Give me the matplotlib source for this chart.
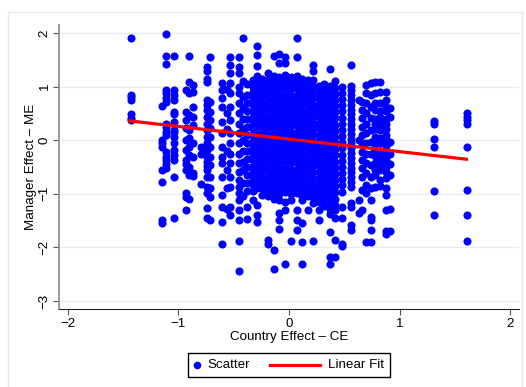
import matplotlib
matplotlib.use("Agg")
import matplotlib.pyplot as plt
from matplotlib.lines import Line2D
from matplotlib.patches import Rectangle

plt.rcParams['font.family'] = ['Liberation Sans', 'DejaVu Sans']

# country effect (x) columns and the manager effects (y) read in each column
ce_cols = [-1.43, -1.15, -1.11, -1.04, -0.93, -0.90, -0.87, -0.80, -0.74, -0.71,
           -0.61, -0.56, -0.53, -0.45, -0.42,
           -0.38, -0.33, -0.29, -0.24, -0.19, -0.14, -0.09, -0.04, 0.02, 0.07,
           0.12, 0.17, 0.22, 0.27, 0.32, 0.37, 0.42, 0.48, 0.565,
           0.63, 0.66, 0.70, 0.74, 0.78, 0.82, 0.88, 0.91, 1.31, 1.61]

me_cols = [
    [1.9, 0.85, 0.8, 0.75, 0.48, 0.42, 0.37],
    [0.63, 0.0, -0.06, -0.12, -0.55, -0.78, -1.49, -1.54],
    [1.98, 1.57, 1.42, 0.93, 0.88, 0.78, 0.71, 0.3, 0.24, 0.16, 0.1, -0.22, -0.31, -0.37, -0.45, -0.52],
    [1.57, 0.93, 0.84, 0.75, 0.53, 0.48, 0.34, 0.19, 0.15, 0.06, -0.06, -0.19, -0.28, -0.37, -0.68, -1.46],
    [0.93, 0.53, 0.37, 0.22, 0.0, -0.19, -0.37, -0.45, -0.56, -0.99, -1.06, -1.31],
    [1.57, 1.09, 0.88, 0.47, 0.19, 0.04, -0.12, -0.28, -0.5, -0.59, -0.65, -1.1],
    [1.03, 0.9, 0.62, 0.43, 0.28, -0.06, -0.31, -0.62, -0.66],
    [-0.12, -0.25, -0.81],
    [1.37, 1.3, 1.15, 1.09, 0.75, 0.65, 0.56, 0.43, 0.31, 0.19, 0.06, -0.06, -0.19, -0.31, -0.4, -0.48,
     -0.56, -0.68, -0.87, -0.99, -1.27, -1.46],
    [1.55, 0.71, 0.53, 0.37, 0.22, 0.06, -0.12, -0.31, -0.47, -0.68, -0.9, -1.06, -1.49],
    [1.06, 0.93, 0.78, 0.62, 0.34, 0.13, -0.12, -0.31, -0.43, -0.68, -1.03, -1.24, -1.52, -1.93],
    [0.95, 0.5, 0.2, -0.2, -0.55, -0.9, -1.28],
    [1.55, 1.4, 1.25, 1.06, 0.88, 0.62, 0.37, 0.13, -0.06, -0.25, -0.43, -0.68, -0.87, -1.24, -1.4],
    [1.55, 1.37, 1.25, 0.99, 0.88, 0.69, 0.5, 0.31, 0.13, -0.06, -0.25, -0.43, -0.59, -0.75, -0.87,
     -0.99, -1.12, -1.31, -1.49, -1.88, -2.44],
    [1.9, 1.1, 0.8, 0.6, 0.4, 0.2, 0.0, -0.2, -0.4, -0.55, -0.8, -1.05],
    [1.05, 0.85, 0.7, 0.55, 0.4, 0.25, 0.1, -0.05, -0.2, -0.35, -0.5, -0.65, -0.8, -0.95, -1.25, -1.47],
    [1.12, 1.0, 0.9, 0.78, 0.66, 0.55, 0.44, 0.32, 0.2, 0.1, -0.02, -0.14, -0.25, -0.37, -0.48, -0.6,
     -0.72, -0.83, -0.95, -1.12],
    [1.76, 1.59, 1.38, 1.2, 1.08, 0.96, 0.85, 0.73, 0.62, 0.5, 0.38, 0.27, 0.15, 0.03, -0.08, -0.2,
     -0.32, -0.43, -0.55, -0.67, -0.78, -0.9, -1.21, -1.4, -1.52],
    [1.15, 1.04, 0.93, 0.82, 0.7, 0.59, 0.47, 0.36, 0.24, 0.13, 0.01, -0.1, -0.22, -0.33, -0.45, -0.56,
     -0.68, -0.79, -0.9, -1.02],
    [1.25, 1.13, 1.02, 0.9, 0.79, 0.67, 0.56, 0.44, 0.33, 0.21, 0.1, -0.02, -0.13, -0.25, -0.36, -0.48,
     -0.59, -0.71, -0.82, -0.94, -1.05, -1.87, -1.94],
    [1.57, 1.2, 1.09, 0.97, 0.86, 0.74, 0.63, 0.51, 0.4, 0.28, 0.17, 0.05, -0.06, -0.18, -0.29, -0.41,
     -0.52, -0.64, -0.75, -0.87, -0.98, -1.1, -2.05, -2.41],
    [1.6, 1.44, 1.18, 1.07, 0.95, 0.84, 0.72, 0.61, 0.49, 0.38, 0.26, 0.15, 0.03, -0.08, -0.2, -0.31,
     -0.43, -0.54, -0.66, -0.77, -0.89, -1.0, -1.12, -1.36, -1.49, -1.66],
    [1.55, 1.45, 1.22, 1.1, 0.99, 0.87, 0.76, 0.64, 0.53, 0.41, 0.3, 0.18, 0.07, -0.05, -0.16, -0.28,
     -0.39, -0.51, -0.62, -0.74, -0.85, -0.97, -1.15, -1.31, -2.31],
    [1.18, 1.06, 0.95, 0.83, 0.72, 0.6, 0.49, 0.37, 0.26, 0.14, 0.03, -0.09, -0.2, -0.32, -0.43, -0.55,
     -0.66, -0.78, -0.89, -1.01, -1.12, -1.88],
    [1.9, 1.55, 1.2, 1.08, 0.97, 0.85, 0.74, 0.62, 0.51, 0.39, 0.28, 0.16, 0.05, -0.07, -0.18, -0.3,
     -0.41, -0.53, -0.64, -0.76, -0.87, -0.99, -1.31, -1.49, -1.68],
    [1.15, 1.03, 0.92, 0.8, 0.69, 0.57, 0.46, 0.34, 0.23, 0.11, 0.0, -0.12, -0.23, -0.35, -0.46, -0.58,
     -0.69, -0.81, -0.92, -1.04, -1.12, -1.54, -1.9, -2.31],
    [1.13, 1.0, 0.89, 0.77, 0.66, 0.54, 0.43, 0.31, 0.2, 0.08, -0.03, -0.15, -0.26, -0.38, -0.49, -0.61,
     -0.72, -0.84, -0.95, -1.05, -1.31],
    [1.4, 1.3, 1.12, 1.01, 0.89, 0.78, 0.66, 0.55, 0.43, 0.32, 0.2, 0.09, -0.03, -0.14, -0.26, -0.37,
     -0.49, -0.6, -0.72, -0.83, -0.95, -1.06, -1.18, -1.88],
    [1.02, 0.91, 0.79, 0.68, 0.56, 0.45, 0.33, 0.22, 0.1, -0.01, -0.13, -0.24, -0.36, -0.47, -0.59, -0.7,
     -0.82, -0.93, -1.05, -1.16, -1.31, -1.49],
    [1.05, 0.94, 0.82, 0.71, 0.59, 0.48, 0.36, 0.25, 0.13, 0.02, -0.1, -0.21, -0.33, -0.44, -0.56, -0.67,
     -0.79, -0.9, -1.02, -1.13, -1.22],
    [1.33, 1.02, 0.9, 0.79, 0.67, 0.56, 0.44, 0.33, 0.21, 0.1, -0.02, -0.13, -0.25, -0.36, -0.48, -0.59,
     -0.71, -0.82, -0.94, -1.05, -1.17, -1.28, -1.37, -1.71, -2.18, -2.31],
    [1.1, 0.98, 0.87, 0.75, 0.64, 0.52, 0.41, 0.29, 0.18, 0.06, -0.05, -0.17, -0.28, -0.4, -0.51, -0.63,
     -0.74, -0.86, -0.97, -1.09, -1.2, -1.3, -1.46, -1.87, -2.18],
    [1.0, 0.88, 0.77, 0.65, 0.54, 0.42, 0.31, 0.19, 0.08, -0.04, -0.15, -0.27, -0.38, -0.5, -0.61, -0.73,
     -0.84, -0.96, -1.24, -1.46, -1.93, -1.98],
    [1.4, 1.02, 0.93, 0.84, 0.75, 0.66, 0.57, 0.48, 0.39, 0.3, 0.21, 0.12, 0.03, -0.06, -0.15, -0.24,
     -0.33, -0.42, -0.51, -0.6, -0.69, -0.78, -0.87, -1.18, -1.24, -1.59, -1.68],
    [0.75, 0.0, -1.12, -1.35],
    [0.71, 0.56, 0.41, 0.25, 0.09, -0.06, -0.22, -0.37, -0.52, -0.68, -0.93, -1.31],
    [1.03, 0.88, 0.69, 0.5, 0.31, 0.13, -0.06, -0.25, -0.43, -0.62, -0.84, -0.99, -1.9],
    [1.06, 0.84, 0.62, 0.41, 0.19, -0.03, -0.25, -0.47, -0.68, -0.9, -1.12, -1.43, -1.49, -1.68, -1.9],
    [1.09, 0.88, 0.7, 0.56, 0.4, 0.31, 0.2, 0.06, -0.08, -0.19, -0.3, -0.43, -0.55, -0.65, -0.87],
    [1.09, 0.9, 0.69, 0.55, 0.43, 0.3, 0.19, 0.05, -0.06, -0.2, -0.31, -0.45, -0.56, -0.75, -0.85],
    [0.9, 0.75, 0.62, 0.55, 0.4, 0.3, 0.2, 0.1, 0.0, -0.1, -0.25, -0.37, -0.5, -0.6, -0.7, -0.9,
     -1.03, -1.3, -1.7, -1.75],
    [0.6, 0.43, -0.03, -0.25, -0.45, -0.65, -1.28, -1.7],
    [0.35, 0.31, 0.02, -0.13, -0.95, -1.39],
    [0.5, 0.44, 0.38, 0.31, -0.13, -0.93, -1.4, -1.88],
]

# linear fit end points
fit_x = [-1.44, 1.605]
fit_y = [0.36, -0.355]

x_ticks = [-2, -1, 0, 1, 2]
y_ticks = [-3, -2, -1, 0, 1, 2]
legend_labels = ["Scatter", "Linear Fit"]

ce = []
me = []
for xc, ys in zip(ce_cols, me_cols):
    for yv in ys:
        ce.append(xc)
        me.append(yv)

W, H = 526, 387
fs = 9.6

fig = plt.figure(figsize=(W / 100, H / 100), dpi=100)
fig.patches.append(Rectangle((8 / W, -0.1), 514 / W, 1.1 - 12 / H, transform=fig.transFigure,
                             fill=False, edgecolor='#e4ecef', lw=1.0))
ax = fig.add_axes([59 / W, 1 - 309 / H, 460 / W, 284 / H])

ax.scatter(ce, me, s=34, color='#0000ff', linewidths=0, zorder=3)
ax.plot(fit_x, fit_y, color='#ff0000', lw=2.3, zorder=4)

ax.set_xlim(-2.08, 2.08)
ax.set_ylim(-3.15, 2.15)
ax.set_xticks(x_ticks)
ax.set_yticks(y_ticks)
ax.tick_params(axis='both', labelsize=fs, length=4.5, color='#555555')
ax.tick_params(axis='y', pad=1.5)
ax.tick_params(axis='x', pad=2)
plt.setp(ax.get_yticklabels(), rotation=90, va='center')
ax.grid(axis='y', color='#e6eef0', lw=1)
ax.set_axisbelow(True)
for s in ['top', 'right']:
    ax.spines[s].set_visible(False)
ax.spines['left'].set_color('#888888')
ax.spines['left'].set_linewidth(1.2)
ax.spines['bottom'].set_color('#222222')

ax.set_xlabel("Country Effect \u2013 CE", fontsize=fs, labelpad=1)
ax.set_ylabel("Manager Effect \u2013 ME", fontsize=fs, labelpad=1)

# legend box drawn by hand so the marker sits close to its label, as in the reference
fig.patches.append(Rectangle((188 / W, 1 - 377 / H), 202 / W, 24 / H, transform=fig.transFigure,
                             fill=False, edgecolor='black', lw=1.0))
ly = 1 - 365 / H
fig.add_artist(Line2D([197 / W], [ly], marker='o', color='#0000ff', ms=5.5, mew=0,
                      transform=fig.transFigure))
fig.text(207 / W, ly, legend_labels[0], fontsize=fs, va='center', ha='left')
fig.add_artist(Line2D([270 / W, 320 / W], [ly, ly], color='#ff0000', lw=2.3,
                      transform=fig.transFigure))
fig.text(328 / W, ly, legend_labels[1], fontsize=fs, va='center', ha='left')

fig.savefig("out.png", dpi=100)
